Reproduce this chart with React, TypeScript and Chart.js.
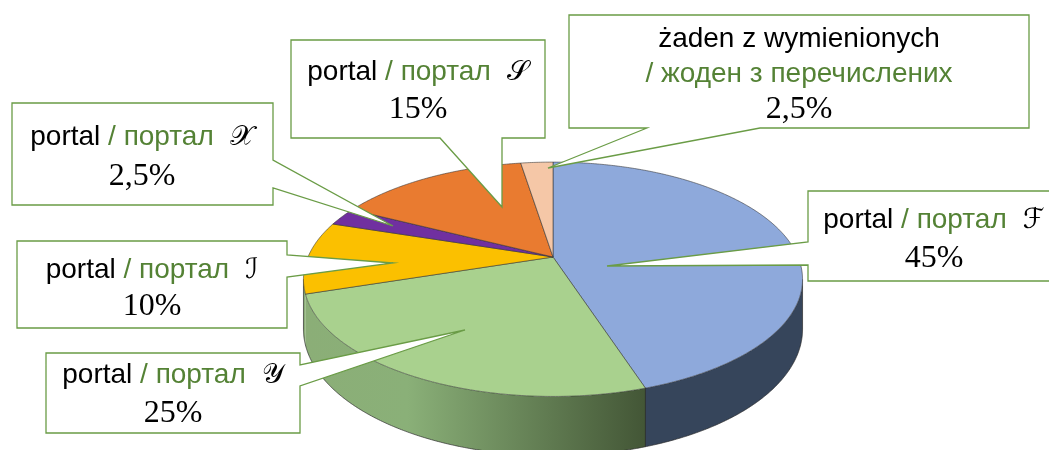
import React, { useEffect, useRef } from 'react';
import { Chart, registerables } from 'chart.js';

Chart.register(...registerables);

// ---- data ----
const categoriesPl = ['portal', 'portal', 'portal', 'portal', 'portal', 'żaden z wymienionych'];
const categoriesUk = ['/ портал', '/ портал', '/ портал', '/ портал', '/ портал', '/ жоден з перечислених'];
const symbols = ['ℱ', '𝒴', 'ℐ', '𝒳', '𝒮', ''];
const values = [45, 25, 10, 2.5, 15, 2.5];
const percentLabels = ['45%', '25%', '10%', '2,5%', '15%', '2,5%'];

// ---- styles ----
const topColors = ['#8EA9DB', '#A9D18E', '#FBC000', '#7030A0', '#E97B30', '#F5C7A7'];
const sideColors = ['#36455B', 'GRADIENT', '#8BAE77', '#4A2070', '#9E521F', '#B8927A'];
const GREEN_TEXT = '#548235';
const BOX_BORDER = '#6A9C46';
const SANS = '"Liberation Sans", Arial, sans-serif';
const SERIF = '"Liberation Serif", "Times New Roman", serif';
const SYM = '"DejaVu Sans", "DejaVu Serif", "Noto Sans", serif';

// 3D look
const TILT = 0.461;   // vertical squash
const PERSP = 0.19;   // perspective strength
const DEPTH = 0.196;  // wall height relative to radius

// callout layout (box, pointer side, pointer span, tip, text lines)
type Callout = {
  x: number; y: number; w: number; h: number;
  side: 'left' | 'right' | 'bottom';
  p0: number; p1: number;
  tx: number; ty: number;
  cx: number; lines: number[];
};
const callouts: Callout[] = [
  { x: 808, y: 191, w: 252, h: 90, side: 'left', p0: 242, p1: 265, tx: 607, ty: 266, cx: 934, lines: [228, 267] },
  { x: 46, y: 353, w: 254, h: 80, side: 'right', p0: 365, p1: 386, tx: 465, ty: 330, cx: 173, lines: [383, 422] },
  { x: 17, y: 241, w: 270, h: 87, side: 'right', p0: 255, p1: 277, tx: 393, ty: 263, cx: 152, lines: [278, 315] },
  { x: 12, y: 103, w: 261, h: 102, side: 'right', p0: 160, p1: 188, tx: 393, ty: 226, cx: 142, lines: [145, 185] },
  { x: 291, y: 40, w: 254, h: 98, side: 'bottom', p0: 440, p1: 502, tx: 502, ty: 207, cx: 418, lines: [80, 118] },
  { x: 569, y: 15, w: 460, h: 113, side: 'bottom', p0: 647, p1: 760, tx: 548, ty: 168, cx: 799, lines: [47, 82, 118] },
];

const pie3d = {
  id: 'pie3d',
  beforeDatasetsDraw(chart: any) {
    const ctx: CanvasRenderingContext2D = chart.ctx;
    const arcs = chart.getDatasetMeta(0).data as any[];
    if (!arcs.length) return false;
    const cx = arcs[0].x, cy = arcs[0].y, A = arcs[0].outerRadius;
    const B = A * TILT, k = PERSP, D = A * DEPTH;
    const P = (th: number, r = 1, drop = 0): [number, number] => {
      const u = r * Math.cos(th), v = r * Math.sin(th);
      const d = 1 - k * v;
      return [cx + (A * u) / d, cy + (B * v) / d + drop / d];
    };
    const th0 = Math.asin(k), th1 = Math.PI - Math.asin(k);
    const step = Math.PI / 360;
    const rim = (a: number, b: number, drop: number, first: boolean) => {
      const n = Math.max(2, Math.ceil(Math.abs(b - a) / step));
      for (let i = 0; i <= n; i++) {
        const t = a + ((b - a) * i) / n;
        const [x, y] = P(t, 1, drop);
        if (i === 0 && first) ctx.moveTo(x, y); else ctx.lineTo(x, y);
      }
    };
    ctx.save();
    // walls
    arcs.forEach((arc, i) => {
      const a0 = Math.max(arc.startAngle, th0), a1 = Math.min(arc.endAngle, th1);
      if (a1 <= a0) return;
      ctx.beginPath();
      rim(a0, a1 + 0.002, 0, true);
      rim(a1 + 0.002, a0, D, false);
      ctx.closePath();
      if (sideColors[i] === 'GRADIENT') {
        const xa = P(a1)[0], xb = P(a0)[0];
        const g = ctx.createLinearGradient(xa, 0, xb, 0);
        g.addColorStop(0, '#8BAE77');
        g.addColorStop(0.3, '#8AB078');
        g.addColorStop(1, '#435636');
        ctx.fillStyle = g;
      } else ctx.fillStyle = sideColors[i];
      ctx.fill();
    });
    // wall outlines
    ctx.strokeStyle = 'rgba(40,40,40,0.85)';
    ctx.lineWidth = 0.8;
    ctx.beginPath();
    rim(th0, th1, D, true);
    ctx.stroke();
    const verts = [th0, th1];
    arcs.forEach((arc) => {
      if (arc.endAngle > th0 + 0.15 && arc.endAngle < th1 - 0.15) verts.push(arc.endAngle);
    });
    verts.forEach((t) => {
      const [x1, y1] = P(t, 1, 0), [x2, y2] = P(t, 1, D);
      ctx.beginPath(); ctx.moveTo(x1, y1); ctx.lineTo(x2, y2); ctx.stroke();
    });
    // top faces
    arcs.forEach((arc, i) => {
      ctx.beginPath();
      ctx.moveTo(cx, cy);
      rim(arc.startAngle, arc.endAngle, 0, false);
      ctx.closePath();
      ctx.fillStyle = topColors[i];
      ctx.fill();
      ctx.strokeStyle = 'rgba(50,50,50,0.75)';
      ctx.lineWidth = 0.75;
      ctx.stroke();
    });
    ctx.restore();
    return false;
  },
  afterDraw(chart: any) {
    const ctx: CanvasRenderingContext2D = chart.ctx;
    ctx.save();
    callouts.forEach((c, i) => {
      const { x, y, w, h } = c;
      ctx.beginPath();
      ctx.moveTo(x, y);
      ctx.lineTo(x + w, y);
      if (c.side === 'right') {
        ctx.lineTo(x + w, c.p0); ctx.lineTo(c.tx, c.ty); ctx.lineTo(x + w, c.p1);
      }
      ctx.lineTo(x + w, y + h);
      if (c.side === 'bottom') {
        ctx.lineTo(c.p1, y + h); ctx.lineTo(c.tx, c.ty); ctx.lineTo(c.p0, y + h);
      }
      ctx.lineTo(x, y + h);
      if (c.side === 'left') {
        ctx.lineTo(x, c.p1); ctx.lineTo(c.tx, c.ty); ctx.lineTo(x, c.p0);
      }
      ctx.closePath();
      ctx.fillStyle = '#ffffff';
      ctx.fill();
      ctx.strokeStyle = BOX_BORDER;
      ctx.lineWidth = 1.3;
      ctx.lineJoin = 'miter';
      ctx.stroke();

      ctx.textBaseline = 'alphabetic';
      ctx.textAlign = 'left';
      const sansFont = `28px ${SANS}`;
      const symFont = `28px ${SYM}`;
      const pctFont = `32px ${SERIF}`;
      if (symbols[i]) {
        const part1 = categoriesPl[i] + ' ';
        const part2 = categoriesUk[i];
        const gap = 16;
        ctx.font = sansFont;
        const w1 = ctx.measureText(part1).width;
        const w2 = ctx.measureText(part2).width;
        ctx.font = symFont;
        const w3 = ctx.measureText(symbols[i]).width;
        let sx = c.cx - (w1 + w2 + gap + w3) / 2;
        const by = c.lines[0];
        ctx.font = sansFont;
        ctx.fillStyle = '#000';
        ctx.fillText(part1, sx, by);
        sx += w1;
        ctx.fillStyle = GREEN_TEXT;
        ctx.fillText(part2, sx, by);
        sx += w2 + gap;
        ctx.font = symFont;
        ctx.fillStyle = '#000';
        ctx.fillText(symbols[i], sx, by);
        ctx.textAlign = 'center';
        ctx.font = pctFont;
        ctx.fillText(percentLabels[i], c.cx, c.lines[1]);
      } else {
        ctx.textAlign = 'center';
        ctx.font = sansFont;
        ctx.fillStyle = '#000';
        ctx.fillText(categoriesPl[i], c.cx, c.lines[0]);
        ctx.fillStyle = GREEN_TEXT;
        ctx.fillText(categoriesUk[i], c.cx, c.lines[1]);
        ctx.fillStyle = '#000';
        ctx.font = pctFont;
        ctx.fillText(percentLabels[i], c.cx, c.lines[2]);
      }
    });
    ctx.restore();
  },
};

export default function App() {
  const ref = useRef<HTMLCanvasElement>(null);
  useEffect(() => {
    if (!ref.current) return;
    const chart = new Chart(ref.current, {
      type: 'pie',
      data: {
        labels: categoriesPl.map((p, i) => `${p} ${categoriesUk[i]} ${symbols[i]}`.trim()),
        datasets: [{ data: values, backgroundColor: topColors, borderWidth: 0 }],
      },
      options: {
        responsive: false,
        animation: false,
        radius: 245,
        layout: { padding: { left: 57, right: 0, top: 64, bottom: 0 } },
        plugins: { legend: { display: false }, tooltip: { enabled: false } },
      } as any,
      plugins: [pie3d as any],
    });
    return () => chart.destroy();
  }, []);
  return (
    <div style={{ position: 'fixed', left: 0, top: 0, width: 1049, height: 450, background: '#fff' }}>
      <canvas ref={ref} width={1049} height={450} style={{ display: 'block' }} />
    </div>
  );
}
